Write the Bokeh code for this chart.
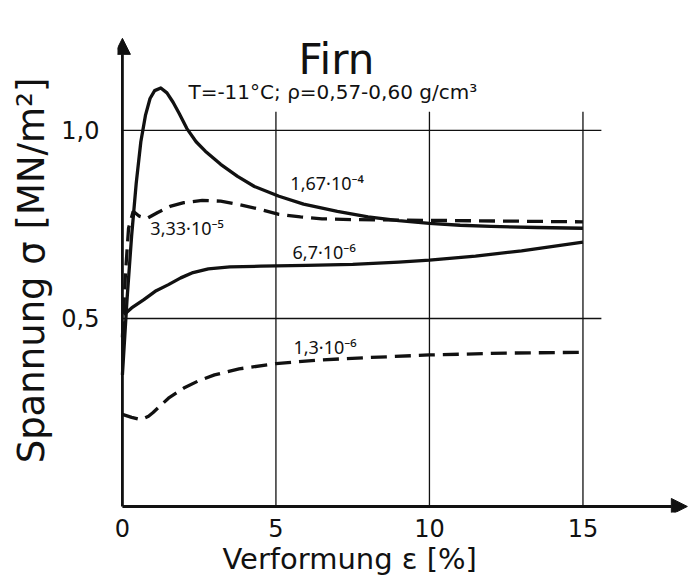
from bokeh.plotting import figure
from bokeh.models import Range1d, FixedTicker, Arrow, NormalHead, Title
from bokeh.embed import file_html
from bokeh.resources import INLINE
from bokeh.core.properties import value

FONT = "DejaVu Sans"
LABEL_FONT = "Noto Sans"
INK = "#111111"

# ---- data ----
# strain rate 1.67e-4 (solid)
eps_167 = [0, 0.15, 0.3, 0.45, 0.6, 0.75, 0.9, 1.05, 1.25, 1.45, 1.65, 1.85, 2.1, 2.4,
           2.7, 3.2, 3.75, 4.3, 5.1, 5.9, 7.0, 8.0, 9.0, 10, 11, 12, 13.5, 15]
sig_167 = [0.35, 0.55, 0.72, 0.86, 0.97, 1.04, 1.085, 1.106, 1.113, 1.10, 1.075, 1.045, 1.005, 0.97,
           0.945, 0.91, 0.878, 0.851, 0.825, 0.804, 0.785, 0.77, 0.76, 0.753, 0.748, 0.745, 0.742, 0.740]
# strain rate 3.33e-5 (dashed)
eps_333 = [0, 0.1, 0.2, 0.35, 0.55, 0.8, 1.15, 1.55, 2.0, 2.6, 3.2, 3.75, 4.4, 5.1,
           5.8, 6.5, 7.5, 8.5, 10, 12.5, 15]
sig_333 = [0.45, 0.62, 0.74, 0.785, 0.772, 0.766, 0.782, 0.798, 0.808, 0.814, 0.812, 0.804, 0.792, 0.777,
           0.770, 0.765, 0.763, 0.762, 0.761, 0.759, 0.757]
# strain rate 6.7e-6 (solid)
eps_67 = [0.05, 0.3, 0.7, 1.1, 1.5, 1.9, 2.3, 2.8, 3.5, 4.5, 6, 7.5, 9, 10, 11.5, 13, 15]
sig_67 = [0.51, 0.528, 0.55, 0.574, 0.59, 0.608, 0.622, 0.632, 0.637, 0.639, 0.641, 0.644, 0.65,
          0.655, 0.666, 0.68, 0.703]
# strain rate 1.3e-6 (dashed)
eps_13 = [0, 0.3, 0.6, 0.85, 1.0, 1.5, 2.0, 2.5, 3.0, 3.8, 5.0, 6.5, 8, 10, 12.5, 15]
sig_13 = [0.245, 0.237, 0.231, 0.24, 0.25, 0.288, 0.315, 0.335, 0.35, 0.366, 0.38, 0.39, 0.396,
          0.403, 0.408, 0.41]

curve_labels = ["1,67·10⁻⁴", "3,33·10⁻⁵", "6,7·10⁻⁶", "1,3·10⁻⁶"]
x_ticks = [0, 5, 10, 15]
x_tick_labels = ["0", "5", "10", "15"]
y_ticks = [0.5, 1.0]
y_tick_labels = ["0,5", "1,0"]
title_text = "Firn"
subtitle_text = "T=-11°C; ρ=0,57-0,60 g/cm³"
x_title = "Verformung ε [%]"
y_title = "Spannung σ [MN/m²]"

# ---- figure ----
W, H = 689, 578
p = figure(width=W, height=H, output_backend="svg", toolbar_location=None,
           x_range=Range1d(-0.16, 18.47), y_range=Range1d(-0.016, 1.2712),
           min_border_left=117, min_border_right=0, min_border_top=28, min_border_bottom=66)
p.outline_line_color = None
p.grid.visible = False
p.background_fill_color = "white"
p.border_fill_color = "white"

for ax in (p.xaxis[0], p.yaxis[0]):
    ax.axis_line_color = None
    ax.major_tick_line_color = None
    ax.minor_tick_line_color = None
    ax.major_label_text_font = FONT
    ax.major_label_text_color = INK

p.xaxis.ticker = FixedTicker(ticks=x_ticks)
p.xaxis.major_label_overrides = {t: s for t, s in zip(x_ticks, x_tick_labels)}
p.xaxis.major_label_text_font_size = "24px"
p.xaxis.major_label_standoff = 0
p.yaxis.ticker = FixedTicker(ticks=y_ticks)
p.yaxis.major_label_overrides = {t: s for t, s in zip(y_ticks, y_tick_labels)}
p.yaxis.major_label_text_font_size = "24px"
p.yaxis.major_label_standoff = 12
p.yaxis.axis_label = y_title
p.yaxis.axis_label_text_font = FONT
p.yaxis.axis_label_text_font_size = "37px"
p.yaxis.axis_label_text_font_style = "normal"
p.yaxis.axis_label_text_color = INK
p.yaxis.axis_label_standoff = 5

p.add_layout(Title(text=x_title, align="left", offset=105, standoff=0,
                   text_font=FONT, text_font_size="29px", text_font_style="normal",
                   text_color=INK), "below")

# grid lines (limited extent like the original)
GRID_TOP = 1.05
GRID_RIGHT = 15.6
p.segment(x0=x_ticks[1:], y0=[0] * 3, x1=x_ticks[1:], y1=[GRID_TOP] * 3,
          line_color=INK, line_width=1.3)
p.segment(x0=[0] * 2, y0=y_ticks, x1=[GRID_RIGHT] * 2, y1=y_ticks,
          line_color=INK, line_width=1.3)

# axes with arrows
p.add_layout(Arrow(end=NormalHead(size=16, fill_color=INK, line_color=INK),
                   x_start=0, y_start=0, x_end=18.4, y_end=0,
                   line_width=2.8, line_color=INK))
p.add_layout(Arrow(end=NormalHead(size=16, fill_color=INK, line_color=INK),
                   x_start=0, y_start=0, x_end=0, y_end=1.245,
                   line_width=2.8, line_color=INK))

# curves
LW = 3.3
p.line(eps_167, sig_167, line_color=INK, line_width=LW, line_join="round")
p.line(eps_333, sig_333, line_color=INK, line_width=LW, line_dash="16 8")
p.line(eps_67, sig_67, line_color=INK, line_width=LW, line_join="round")
p.line(eps_13, sig_13, line_color=INK, line_width=LW, line_dash="16 8")

# curve labels
p.text(x=[5.47, 0.91, 5.54, 5.57], y=[0.861, 0.741, 0.677, 0.424], text=curve_labels,
       text_font=value(LABEL_FONT), text_font_size="18px", text_color=INK,
       text_align="left", text_baseline="middle")

# title and conditions
p.text(x=[6.97], y=[1.19], text=[title_text], text_font=value(FONT),
       text_font_size="42px", text_color=INK, text_align="center", text_baseline="middle")
p.text(x=[2.15], y=[1.101], text=[subtitle_text], text_font=value(FONT),
       text_font_size="20px", text_color=INK, text_align="left", text_baseline="middle")

open("out.html", "w").write(file_html(p, INLINE))
